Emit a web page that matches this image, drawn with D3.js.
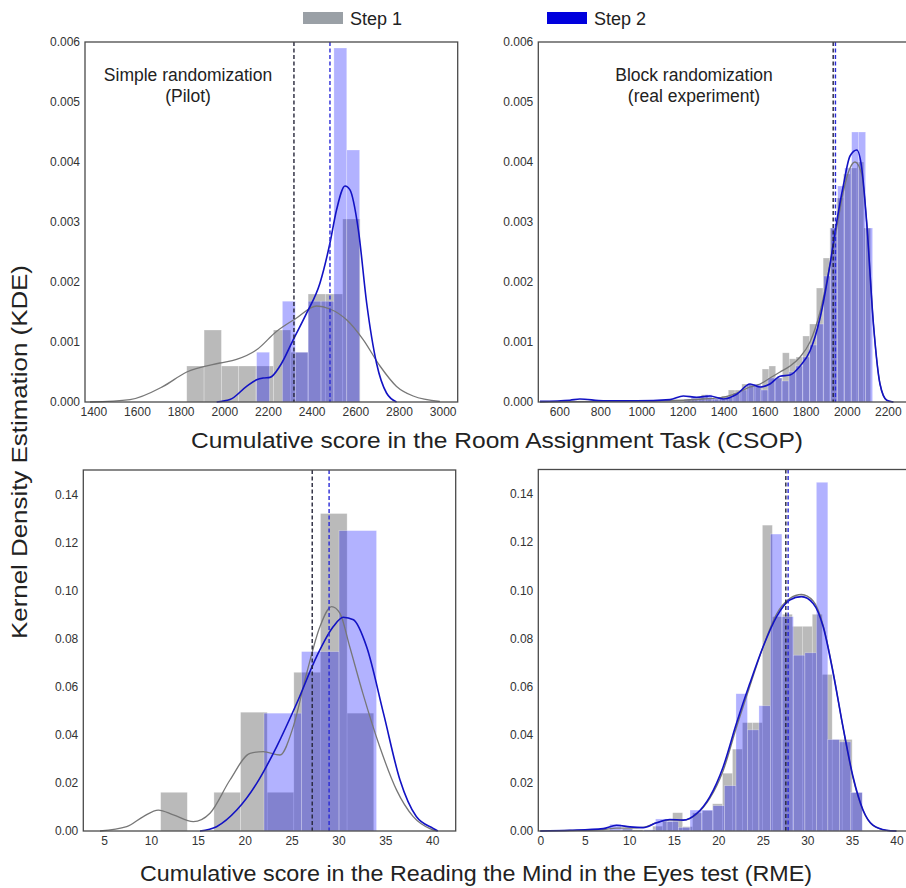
<!DOCTYPE html>
<html>
<head>
<meta charset="utf-8">
<script src="https://cdn.jsdelivr.net/npm/d3@7"></script>
<style>
  body { margin: 0; background: #fff; }
  svg text { font-family: "Liberation Sans", Arial, Helvetica, sans-serif; fill: #222; }
</style>
</head>
<body>
<svg id="chart" width="906" height="888"></svg>
<script>
// ---- data ----
var seriesNames = ['Step 1', 'Step 2'];

// CSOP, simple randomization (pilot)
var csopPilotStep1Bins = { start: 1828, width: 79.4 };
var csopPilotStep1 = [0.0006, 0.0012, 0.0006, 0.0006, 0.0006, 0.0012, 0.00083, 0.0018, 0.0018, 0.00305];
var csopPilotStep2Bins = { start: 2148, width: 59 };
var csopPilotStep2 = [0.00083, 0, 0.00168, 0.00083, 0.00168, 0.00168, 0.0059, 0.0042];
var csopPilotKde1 = [[1385, 0], [1568, 0.00004], [1720, 0.00026], [1828, 0.0005], [1980, 0.00065], [2056, 0.00071],
  [2148, 0.00087], [2240, 0.00118], [2331, 0.0014], [2423, 0.0016], [2484, 0.00155], [2560, 0.00137],
  [2636, 0.00104], [2713, 0.0006], [2789, 0.00026], [2865, 0.0001], [2987, 0.00001]];
var csopPilotKde2 = [[1965, 0], [2026, 0.00004], [2102, 0.00026], [2148, 0.00037], [2178, 0.0004], [2209, 0.00041],
  [2255, 0.0006], [2316, 0.00104], [2377, 0.00148], [2438, 0.00198], [2484, 0.00265], [2514, 0.0032],
  [2553, 0.0036], [2575, 0.00354], [2614, 0.00287], [2652, 0.00165], [2697, 0.00065], [2743, 0.00015], [2789, 0]];
var csopPilotMeans = [2319, 2484];

// CSOP, block randomization (real experiment)
var csopRealStep1Bins = { start: 1225, width: 33 };
var csopRealStep1 = [0.00005, 0.00005, 0.00012, 0.00005, 0.00005, 0.0001, 0.0002, 0.0002, 0.0003, 0.0003,
  0.00025, 0.00055, 0.0006, 0.0004, 0.00082, 0.00072, 0.00075, 0.0011, 0.0013, 0.0019, 0.0024,
  0.0029, 0.0034, 0.0038, 0.0039, 0.004, 0.0029];
var csopRealStep2Bins = { start: 1208, width: 34 };
var csopRealStep2 = [0.00005, 0.00008, 0.00008, 0.00012, 0.00005, 0.00004, 0.00008, 0.00015, 0.0002, 0.0003,
  0.0003, 0.0002, 0.0004, 0.0004, 0.00035, 0.0005, 0.0006, 0.00075, 0.00095, 0.0013, 0.0021,
  0.0029, 0.0036, 0.0039, 0.0045, 0.0045, 0.0029];
var csopRealKde1 = [[506, 0], [800, 0.00001], [1100, 0.00002], [1300, 0.00005], [1400, 0.00008], [1464, 0.00015],
  [1529, 0.00025], [1578, 0.0003], [1626, 0.0004], [1675, 0.0005], [1724, 0.0006], [1773, 0.00075],
  [1821, 0.001], [1870, 0.0015], [1919, 0.0023], [1951, 0.0029], [1983, 0.0035], [2016, 0.0039],
  [2040, 0.004], [2073, 0.0038], [2097, 0.003], [2130, 0.0013], [2162, 0.0003], [2195, 0.00003], [2227, 0]];
var csopRealKde2 = [[506, 0.00001], [652, 0.00003], [700, 0.00005], [814, 0.00002], [977, 0.00002], [1139, 0.00004],
  [1204, 0.0001], [1269, 0.00008], [1334, 0.0001], [1399, 0.00005], [1464, 0.00013], [1529, 0.0003],
  [1578, 0.00025], [1626, 0.0003], [1675, 0.00043], [1724, 0.00045], [1773, 0.0006], [1821, 0.00085],
  [1870, 0.0014], [1919, 0.0023], [1951, 0.003], [1983, 0.0036], [2016, 0.0041], [2049, 0.0042],
  [2073, 0.0039], [2097, 0.003], [2130, 0.0013], [2162, 0.0003], [2195, 0.00003], [2227, 0]];
var csopRealMeans = [1934, 1945];

// RME, pilot
var rmePilotStep1Bins = { start: 11.04, width: 2.84 };
var rmePilotStep1 = [0.0161, 0, 0.0161, 0.0494, 0.0161, 0.066, 0.132, 0.049];
var rmePilotStep2Bins = { start: 22.06, width: 4.0 };
var rmePilotStep2 = [0.049, 0.0746, 0.1249];
var rmePilotKde1 = [[4.57, 0], [7.42, 0.0018], [9.19, 0.006], [10.79, 0.0087], [12.39, 0.0067], [14.52, 0.0039],
  [16.3, 0.0074], [18.43, 0.0212], [20.57, 0.0323], [21.98, 0.033], [23.76, 0.0316], [25.18, 0.0434],
  [26.61, 0.0656], [28.03, 0.085], [29.27, 0.0933], [30.16, 0.0905], [31.2, 0.0766], [32.6, 0.0572],
  [34.4, 0.035], [36.2, 0.017], [37.97, 0.006], [39.75, 0.001], [40.5, 0]];
var rmePilotKde2 = [[15.23, 0], [17.0, 0.0018], [19.15, 0.0087], [21.28, 0.0198], [23.4, 0.035], [25.54, 0.053],
  [27.68, 0.0726], [29.45, 0.085], [30.5, 0.0889], [31.6, 0.0878], [33.0, 0.0766], [34.8, 0.0489],
  [36.56, 0.0212], [38.3, 0.006], [40.1, 0.0011], [40.6, 0]];
var rmePilotMeans = [27.2, 29.0];

// RME, real experiment
var rmeRealStep1Bins = { start: 9.27, width: 1.12 };
var rmeRealStep1 = [0.001, 0.0005, 0, 0.002, 0.004, 0.0076, 0.0018, 0.0075, 0.0085, 0.0113, 0.024, 0.034,
  0.045, 0.045, 0.127, 0.089, 0.09, 0.085, 0.085, 0.09, 0.065, 0.038, 0.038, 0.016];
var rmeRealStep2Bins = { start: 7.79, width: 1.29 };
var rmeRealStep2 = [0.0028, 0.0008, 0, 0.0005, 0.005, 0.004, 0.0015, 0.0087, 0.0087, 0.0105, 0.0188, 0.057,
  0.042, 0.052, 0.1233, 0.089, 0.073, 0.074, 0.1448, 0.038, 0.037, 0.016];
var rmeRealKde1 = [[0, 0], [3.33, 0.0002], [7.07, 0.0006], [8.56, 0.0012], [10.07, 0.0012], [11.56, 0.0015],
  [13.06, 0.0035], [14.55, 0.0045], [16.05, 0.0045], [17.55, 0.007], [19.04, 0.0135], [20.54, 0.025],
  [22.03, 0.043], [23.53, 0.06], [25.03, 0.0765], [26.53, 0.09], [28.02, 0.0965], [29.34, 0.0982],
  [30.65, 0.0955], [31.77, 0.0855], [32.9, 0.066], [34.0, 0.043], [35.13, 0.022], [36.25, 0.0085],
  [37.37, 0.0023], [38.87, 0.0003], [40, 0]];
var rmeRealKde2 = [[0, 0], [3.33, 0.0003], [7.07, 0.001], [8.56, 0.0024], [10.07, 0.0017], [11.56, 0.0014],
  [13.06, 0.0034], [14.55, 0.0048], [16.05, 0.0045], [17.55, 0.0072], [19.04, 0.0142], [20.54, 0.0266],
  [22.03, 0.0446], [23.53, 0.0612], [25.03, 0.0765], [26.53, 0.0889], [28.02, 0.0959], [29.34, 0.0973],
  [30.65, 0.0945], [31.77, 0.0849], [32.9, 0.0655], [34.0, 0.0433], [35.13, 0.0225], [36.25, 0.0087],
  [37.37, 0.0024], [38.87, 0.0003], [40, 0]];
var rmeRealMeans = [27.58, 27.84];

var csopTicks = [1400, 1600, 1800, 2000, 2200, 2400, 2600, 2800, 3000];
var csopRealTicks = [600, 800, 1000, 1200, 1400, 1600, 1800, 2000, 2200];
var csopYTicks = [0, 0.001, 0.002, 0.003, 0.004, 0.005, 0.006];
var rmePilotTicks = [5, 10, 15, 20, 25, 30, 35, 40];
var rmeRealTicks = [0, 5, 10, 15, 20, 25, 30, 35, 40];
var rmeYTicks = [0, 0.02, 0.04, 0.06, 0.08, 0.10, 0.12, 0.14];

// ---- drawing ----
var svg = d3.select('#chart');
var grayFill = '#8c8c8c', blueFill = '#0000ff';

function bars(bins, heights) {
  return heights.map(function (h, i) {
    return { x0: bins.start + i * bins.width, x1: bins.start + (i + 1) * bins.width, y: h };
  });
}

function drawPanel(p) {
  var x = d3.scaleLinear().domain(p.xDomain).range([p.left, p.right]);
  var y = d3.scaleLinear().domain(p.yDomain).range([p.bottom, p.top]);
  var g = svg.append('g');

  // histograms
  [[p.h1, grayFill, 0.6], [p.h2, blueFill, 0.3]].forEach(function (s) {
    g.append('g').selectAll('rect')
      .data(s[0])
      .enter().append('rect')
      .attr('x', function (d) { return x(d.x0); })
      .attr('width', function (d) { return x(d.x1) - x(d.x0); })
      .attr('y', function (d) { return y(d.y); })
      .attr('height', function (d) { return y(0) - y(d.y); })
      .attr('fill', s[1])
      .attr('fill-opacity', s[2])
      .attr('stroke', '#fff')
      .attr('stroke-opacity', 0.45)
      .attr('stroke-width', 0.6);
  });

  var line = d3.line()
    .x(function (d) { return x(d[0]); })
    .y(function (d) { return y(d[1]); })
    .curve(d3.curveMonotoneX);
  g.append('path').datum(p.k1).attr('d', line)
    .attr('fill', 'none').attr('stroke', '#777').attr('stroke-width', 1.3);
  g.append('path').datum(p.k2).attr('d', line)
    .attr('fill', 'none').attr('stroke', '#1212c4').attr('stroke-width', 1.6);

  // means
  [[p.means[0], '#26263a'], [p.means[1], '#2a2ad6']].forEach(function (m) {
    g.append('line')
      .attr('x1', x(m[0])).attr('x2', x(m[0]))
      .attr('y1', p.top).attr('y2', p.bottom)
      .attr('stroke', m[1]).attr('stroke-width', 1.4)
      .attr('stroke-dasharray', '4,2.5');
  });

  // frame
  g.append('rect')
    .attr('x', p.left).attr('y', p.top)
    .attr('width', p.right - p.left).attr('height', p.bottom - p.top)
    .attr('fill', 'none').attr('stroke', '#4a4a4a').attr('stroke-width', 1.3);

  var xa = g.append('g')
    .attr('transform', 'translate(0,' + p.bottom + ')')
    .call(d3.axisBottom(x).tickValues(p.xTicks).tickSize(0).tickPadding(5).tickFormat(d3.format('d')));
  var ya = g.append('g')
    .attr('transform', 'translate(' + p.left + ',0)')
    .call(d3.axisLeft(y).tickValues(p.yTicks).tickSize(0).tickPadding(5).tickFormat(d3.format(p.yFormat)));
  [xa, ya].forEach(function (a) {
    a.select('.domain').remove();
    a.selectAll('text').attr('font-size', 12).style('fill', '#333')
      .attr('font-family', '"Liberation Sans", Arial, sans-serif');
  });

  if (p.note) {
    p.note.forEach(function (t, i) {
      g.append('text')
        .attr('x', p.noteX).attr('y', 81 + i * 21)
        .attr('text-anchor', 'middle')
        .attr('font-size', 17.5)
        .text(t);
    });
  }
}

drawPanel({
  left: 85, right: 457.7, top: 42, bottom: 402,
  xDomain: [1362, 3069], yDomain: [0, 0.006],
  xTicks: csopTicks, yTicks: csopYTicks, yFormat: '.3f',
  h1: bars(csopPilotStep1Bins, csopPilotStep1), h2: bars(csopPilotStep2Bins, csopPilotStep2),
  k1: csopPilotKde1, k2: csopPilotKde2, means: csopPilotMeans,
  note: ['Simple randomization', '(Pilot)'], noteX: 188
});
drawPanel({
  left: 538.3, right: 911, top: 42, bottom: 402,
  xDomain: [497.7, 2313], yDomain: [0, 0.006],
  xTicks: csopRealTicks, yTicks: csopYTicks, yFormat: '.3f',
  h1: bars(csopRealStep1Bins, csopRealStep1), h2: bars(csopRealStep2Bins, csopRealStep2),
  k1: csopRealKde1, k2: csopRealKde2, means: csopRealMeans,
  note: ['Block randomization', '(real experiment)'], noteX: 694
});
drawPanel({
  left: 83.3, right: 455.7, top: 470, bottom: 831,
  xDomain: [2.79, 42.5], yDomain: [0, 0.1501],
  xTicks: rmePilotTicks, yTicks: rmeYTicks, yFormat: '.2f',
  h1: bars(rmePilotStep1Bins, rmePilotStep1), h2: bars(rmePilotStep2Bins, rmePilotStep2),
  k1: rmePilotKde1, k2: rmePilotKde2, means: rmePilotMeans
});
drawPanel({
  left: 538.3, right: 911, top: 469.5, bottom: 831,
  xDomain: [-0.22, 41.64], yDomain: [0, 0.1501],
  xTicks: rmeRealTicks, yTicks: rmeYTicks, yFormat: '.2f',
  h1: bars(rmeRealStep1Bins, rmeRealStep1), h2: bars(rmeRealStep2Bins, rmeRealStep2),
  k1: rmeRealKde1, k2: rmeRealKde2, means: rmeRealMeans
});

// axis titles
svg.append('text').attr('x', 497).attr('y', 448).attr('text-anchor', 'middle')
  .attr('font-size', 22).attr('textLength', 612).attr('lengthAdjust', 'spacingAndGlyphs')
  .text('Cumulative score in the Room Assignment Task (CSOP)');
svg.append('text').attr('x', 476).attr('y', 881).attr('text-anchor', 'middle')
  .attr('font-size', 22).attr('textLength', 672).attr('lengthAdjust', 'spacingAndGlyphs')
  .text('Cumulative score in the Reading the Mind in the Eyes test (RME)');
svg.append('text').attr('transform', 'translate(27,452) rotate(-90)').attr('text-anchor', 'middle')
  .attr('font-size', 22).attr('textLength', 374).attr('lengthAdjust', 'spacingAndGlyphs')
  .text('Kernel Density Estimation (KDE)');

// legend
var legend = svg.append('g');
[[303, '#9aa0a6'], [547, '#0000dd']].forEach(function (l, i) {
  legend.append('rect').attr('x', l[0]).attr('y', 12).attr('width', 40).attr('height', 12).attr('fill', l[1]);
  legend.append('text').attr('x', l[0] + 47).attr('y', 25).attr('font-size', 18).text(seriesNames[i]);
});
</script>
</body>
</html>
